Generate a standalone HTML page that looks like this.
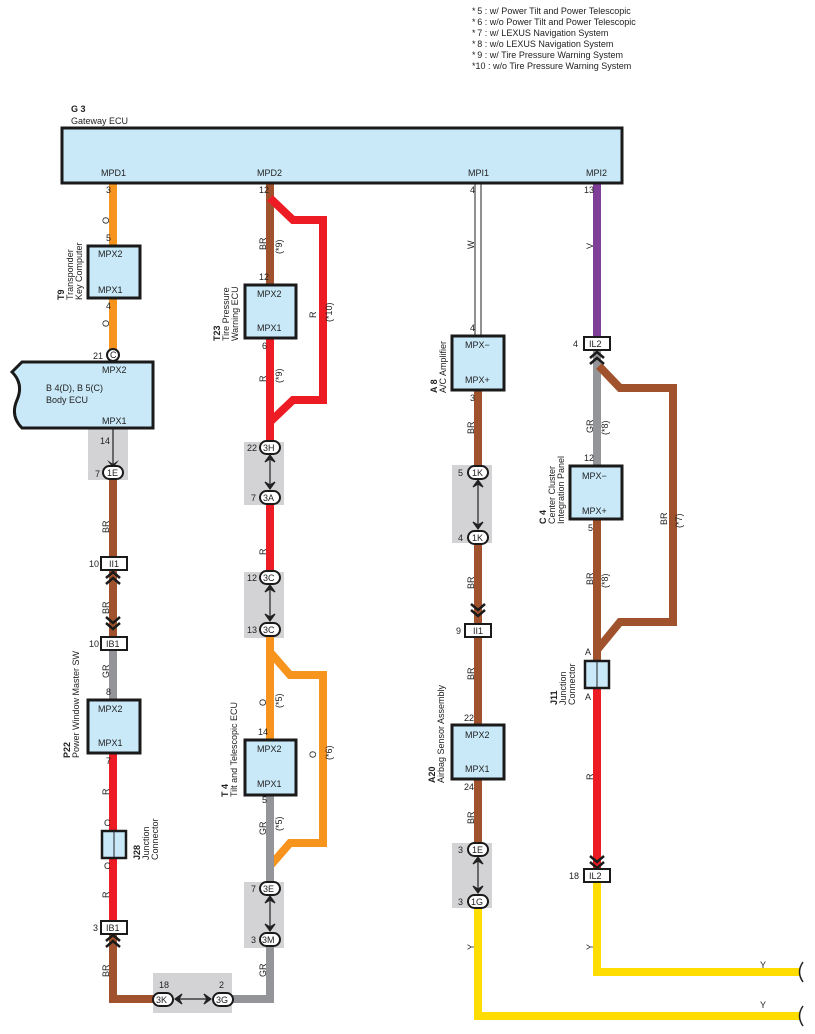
<!DOCTYPE html>
<html><head><meta charset="utf-8"><style>
body{margin:0;background:#fff}
svg{display:block;font-family:"Liberation Sans",sans-serif}
text{font-size:9px;fill:#222}
.b{font-weight:bold}
.box{fill:#c9e9f9;stroke:#1a1a1a;stroke-width:3}
.w{fill:none;stroke-width:8;stroke-linejoin:miter}
.sh{fill:#d3d3d5}
.ov{fill:#fff;stroke:#1a1a1a;stroke-width:2}
.cb{fill:#fff;stroke:#1a1a1a;stroke-width:2}
.ch{fill:none;stroke:#1a1a1a;stroke-width:2.5}
</style></head><body>
<svg width="815" height="1034" viewBox="0 0 815 1034">
<!-- legend -->
<g font-size="9">
<text x="472" y="14">*&#8201;5 : w/ Power Tilt and Power Telescopic</text>
<text x="472" y="25">*&#8201;6 : w/o Power Tilt and Power Telescopic</text>
<text x="472" y="36">*&#8201;7 : w/ LEXUS Navigation System</text>
<text x="472" y="47">*&#8201;8 : w/o LEXUS Navigation System</text>
<text x="472" y="58">*&#8201;9 : w/ Tire Pressure Warning System</text>
<text x="472" y="69">*10 : w/o Tire Pressure Warning System</text>
</g>
<!-- shaded areas -->
<rect class="sh" x="88" y="428" width="40" height="52"/>
<rect class="sh" x="244" y="442" width="40" height="63"/>
<rect class="sh" x="244" y="572" width="40" height="66"/>
<rect class="sh" x="244" y="882" width="40" height="66"/>
<rect class="sh" x="153" y="973" width="79" height="40"/>
<rect class="sh" x="452" y="465" width="40" height="78"/>
<rect class="sh" x="452" y="843" width="40" height="65"/>

<!-- wires col1 -->
<path class="w" stroke="#f7941d" d="M113 183V355"/>
<path class="w" stroke="#a0522d" d="M113 480V640"/>
<path class="w" stroke="#939598" d="M113 645V700"/>
<path class="w" stroke="#ed1c24" d="M113 753V927"/>
<path class="w" stroke="#a0522d" d="M113 935V999H157"/>
<line x1="113" y1="428" x2="113" y2="466" stroke="#222" stroke-width="1.2"/>
<path d="M107 460L113 468L119 460L113 464Z" fill="#222"/>
<!-- col2 -->
<path class="w" stroke="#a0522d" d="M270 183V285"/>
<path class="w" stroke="#ed1c24" d="M270 198L293 220H323V400H293L270 422"/>
<path class="w" stroke="#ed1c24" d="M270 338V447"/>
<path class="w" stroke="#ed1c24" d="M270 503V578"/>
<path class="w" stroke="#f7941d" d="M270 636V740"/>
<path class="w" stroke="#f7941d" d="M270 652L290 675H323V843H290L270 866"/>
<path class="w" stroke="#939598" d="M270 795V888"/>
<path class="w" stroke="#939598" d="M270 940V999H228"/>
<!-- col3 -->
<line x1="475" y1="183" x2="475" y2="336" stroke="#222" stroke-width="1"/>
<line x1="481" y1="183" x2="481" y2="336" stroke="#222" stroke-width="1"/>
<path class="w" stroke="#a0522d" d="M478 390V473"/>
<path class="w" stroke="#a0522d" d="M478 537V725"/>
<path class="w" stroke="#a0522d" d="M478 779V849"/>
<path class="w" stroke="#ffdd00" d="M478 902V1016H800"/>
<!-- col4 -->
<path class="w" stroke="#7f3f98" d="M597 183V337"/>
<path class="w" stroke="#939598" d="M597 350V466"/>
<path class="w" stroke="#a0522d" d="M597 519V661"/>
<path class="w" stroke="#a0522d" d="M599 366L620 388H673V622H620L597 650"/>
<path class="w" stroke="#ed1c24" d="M597 688V870"/>
<path class="w" stroke="#ffdd00" d="M597 880V972H800"/>
<path d="M803 962q-7 10 0 20" fill="none" stroke="#222" stroke-width="1.5"/>
<path d="M803 1006q-7 10 0 20" fill="none" stroke="#222" stroke-width="1.5"/>

<!-- gateway -->
<text x="71" y="112" class="b">G 3</text>
<text x="71" y="124">Gateway ECU</text>
<rect class="box" x="62" y="128" width="560" height="55"/>
<text x="101" y="176">MPD1</text><text x="257" y="176">MPD2</text>
<text x="468" y="176">MPI1</text><text x="586" y="176">MPI2</text>

<!-- boxes -->
<rect class="box" x="88" y="246" width="52" height="52"/>
<text x="98" y="257">MPX2</text><text x="98" y="293">MPX1</text>
<path class="box" d="M22 362H153V428H22Q10 416 17 400Q24 384 12 372Z"/>
<text x="102" y="373">MPX2</text><text x="102" y="424">MPX1</text>
<text x="46" y="391">B 4(D), B 5(C)</text><text x="46" y="403">Body ECU</text>
<rect class="box" x="88" y="700" width="52" height="53"/>
<text x="98" y="712">MPX2</text><text x="98" y="746">MPX1</text>
<rect class="box" x="245" y="285" width="51" height="53"/>
<text x="257" y="297">MPX2</text><text x="257" y="331">MPX1</text>
<rect class="box" x="245" y="740" width="51" height="55"/>
<text x="257" y="752">MPX2</text><text x="257" y="787">MPX1</text>
<rect class="box" x="452" y="336" width="52" height="54"/>
<text x="465" y="348">MPX−</text><text x="465" y="383">MPX+</text>
<rect class="box" x="452" y="725" width="52" height="54"/>
<text x="465" y="738">MPX2</text><text x="465" y="772">MPX1</text>
<rect class="box" x="570" y="466" width="52" height="53"/>
<text x="582" y="479">MPX−</text><text x="582" y="514">MPX+</text>
<rect x="102" y="831" width="24" height="27" fill="#c9e9f9" stroke="#1a1a1a" stroke-width="2.5"/><line x1="114" y1="831" x2="114" y2="858" stroke="#222"/>
<rect x="585" y="661" width="24" height="27" fill="#c9e9f9" stroke="#1a1a1a" stroke-width="2.5"/><line x1="597" y1="661" x2="597" y2="688" stroke="#222"/>

<!-- connectors -->
<g>
<circle cx="113" cy="355" r="6" class="ov"/><text x="110" y="358" font-size="8">C</text>
<rect class="ov" x="103" y="466" width="20" height="13" rx="6.5"/><text x="107" y="476">1E</text>
<rect class="ov" x="260" y="441" width="20" height="13" rx="6.5"/><text x="263" y="451">3H</text>
<rect class="ov" x="260" y="491" width="20" height="13" rx="6.5"/><text x="263" y="501">3A</text>
<rect class="ov" x="260" y="571" width="20" height="13" rx="6.5"/><text x="263" y="581">3C</text>
<rect class="ov" x="260" y="623" width="20" height="13" rx="6.5"/><text x="263" y="633">3C</text>
<rect class="ov" x="260" y="882" width="20" height="13" rx="6.5"/><text x="263" y="892">3E</text>
<rect class="ov" x="260" y="933" width="20" height="13" rx="6.5"/><text x="262" y="943">3M</text>
<rect class="ov" x="153" y="993" width="20" height="13" rx="6.5"/><text x="156" y="1003">3K</text>
<rect class="ov" x="213" y="993" width="20" height="13" rx="6.5"/><text x="216" y="1003">3G</text>
<rect class="ov" x="468" y="466" width="20" height="13" rx="6.5"/><text x="472" y="476">1K</text>
<rect class="ov" x="468" y="531" width="20" height="13" rx="6.5"/><text x="472" y="541">1K</text>
<rect class="ov" x="468" y="843" width="20" height="13" rx="6.5"/><text x="472" y="853">1E</text>
<rect class="ov" x="468" y="895" width="20" height="13" rx="6.5"/><text x="471" y="905">1G</text>
<rect class="cb" x="101" y="557" width="26" height="13"/><text x="109" y="567">II1</text>
<rect class="cb" x="101" y="637" width="26" height="13"/><text x="106" y="647">IB1</text>
<rect class="cb" x="101" y="921" width="26" height="13"/><text x="106" y="931">IB1</text>
<rect class="cb" x="465" y="624" width="26" height="13"/><text x="473" y="634">II1</text>
<rect class="cb" x="584" y="337" width="26" height="13"/><text x="589" y="347">IL2</text>
<rect class="cb" x="584" y="869" width="26" height="13"/><text x="589" y="879">IL2</text>
</g>
<!-- double arrows in shaded -->
<g stroke="#222" stroke-width="1.2" fill="#222">
<line x1="270" y1="456" x2="270" y2="489"/><path d="M265 462L270 455L275 462L270 459Z"/><path d="M265 482L270 489L275 482L270 485Z"/>
<line x1="270" y1="586" x2="270" y2="621"/><path d="M265 592L270 585L275 592L270 589Z"/><path d="M265 614L270 621L275 614L270 617Z"/>
<line x1="270" y1="897" x2="270" y2="931"/><path d="M265 903L270 896L275 903L270 900Z"/><path d="M265 924L270 931L275 924L270 927Z"/>
<line x1="478" y1="481" x2="478" y2="529"/><path d="M473 487L478 480L483 487L478 484Z"/><path d="M473 522L478 529L483 522L478 525Z"/>
<line x1="478" y1="858" x2="478" y2="893"/><path d="M473 864L478 857L483 864L478 861Z"/><path d="M473 886L478 893L483 886L478 889Z"/>
<line x1="175" y1="999" x2="211" y2="999"/><path d="M182 994L175 999L182 1004L179 999Z"/><path d="M204 994L211 999L204 1004L207 999Z"/>
</g>
<!-- chevrons -->
<g class="ch">
<path d="M106 578L113 572L120 578M106 584L113 578L120 584"/>
<path d="M106 623L113 629L120 623M106 617L113 623L120 617"/>
<path d="M106 941L113 935L120 941M106 947L113 941L120 947"/>
<path d="M471 610L478 616L485 610M471 604L478 610L485 604"/>
<path d="M590 358L597 352L604 358M590 364L597 358L604 364"/>
<path d="M590 862L597 868L604 862M590 856L597 862L604 856"/>
</g>

<!-- pin numbers -->
<g>
<text x="106" y="193">3</text><text x="106" y="241">5</text><text x="106" y="309">4</text><text x="93" y="359">21</text>
<text x="100" y="444">14</text><text x="95" y="477">7</text><text x="89" y="567">10</text><text x="89" y="647">10</text>
<text x="106" y="695">8</text><text x="106" y="764">7</text><text x="104" y="826">C</text><text x="104" y="869">C</text><text x="93" y="931">3</text>
<text x="159" y="988">18</text><text x="219" y="988">2</text>
<text x="259" y="193">12</text><text x="259" y="280">12</text><text x="262" y="349">6</text><text x="247" y="451">22</text><text x="251" y="501">7</text>
<text x="247" y="581">12</text><text x="247" y="633">13</text><text x="258" y="735">14</text><text x="262" y="803">5</text><text x="251" y="892">7</text><text x="251" y="943">3</text>
<text x="470" y="193">4</text><text x="470" y="331">4</text><text x="470" y="401">3</text><text x="458" y="476">5</text><text x="458" y="541">4</text><text x="456" y="634">9</text>
<text x="464" y="721">22</text><text x="464" y="790">24</text><text x="458" y="853">3</text><text x="458" y="905">3</text>
<text x="584" y="193">13</text><text x="573" y="347">4</text><text x="584" y="461">12</text><text x="588" y="531">5</text><text x="585" y="655">A</text><text x="585" y="700">A</text><text x="569" y="879">18</text>
<text x="760" y="968">Y</text><text x="760" y="1008">Y</text>
</g>
<!-- rotated wire labels -->
<g>
<text transform="translate(109,224) rotate(-90)">O</text>
<text transform="translate(109,327) rotate(-90)">O</text>
<text transform="translate(109,533) rotate(-90)">BR</text>
<text transform="translate(109,614) rotate(-90)">BR</text>
<text transform="translate(109,678) rotate(-90)">GR</text>
<text transform="translate(109,795) rotate(-90)">R</text>
<text transform="translate(109,898) rotate(-90)">R</text>
<text transform="translate(109,977) rotate(-90)">BR</text>
<text transform="translate(266,250) rotate(-90)">BR</text><text transform="translate(282,254) rotate(-90)">(*9)</text>
<text transform="translate(266,382) rotate(-90)">R</text><text transform="translate(282,383) rotate(-90)">(*9)</text>
<text transform="translate(316,318) rotate(-90)">R</text><text transform="translate(332,322) rotate(-90)">(*10)</text>
<text transform="translate(266,555) rotate(-90)">R</text>
<text transform="translate(266,706) rotate(-90)">O</text><text transform="translate(282,708) rotate(-90)">(*5)</text>
<text transform="translate(316,758) rotate(-90)">O</text><text transform="translate(332,760) rotate(-90)">(*6)</text>
<text transform="translate(266,835) rotate(-90)">GR</text><text transform="translate(282,831) rotate(-90)">(*5)</text>
<text transform="translate(266,977) rotate(-90)">GR</text>
<text transform="translate(474,249) rotate(-90)">W</text>
<text transform="translate(474,434) rotate(-90)">BR</text>
<text transform="translate(474,589) rotate(-90)">BR</text>
<text transform="translate(474,680) rotate(-90)">BR</text>
<text transform="translate(474,824) rotate(-90)">BR</text>
<text transform="translate(474,950) rotate(-90)">Y</text>
<text transform="translate(593,249) rotate(-90)">V</text>
<text transform="translate(593,433) rotate(-90)">GR</text><text transform="translate(608,435) rotate(-90)">(*8)</text>
<text transform="translate(593,585) rotate(-90)">BR</text><text transform="translate(608,588) rotate(-90)">(*8)</text>
<text transform="translate(667,525) rotate(-90)">BR</text><text transform="translate(682,528) rotate(-90)">(*7)</text>
<text transform="translate(593,780) rotate(-90)">R</text>
<text transform="translate(593,950) rotate(-90)">Y</text>
</g>
<!-- component names -->
<g>
<text class="b" transform="translate(64,300) rotate(-90)">T9</text>
<text transform="translate(73,300) rotate(-90)">Transponder</text>
<text transform="translate(82,300) rotate(-90)">Key Computer</text>
<text class="b" transform="translate(70,758) rotate(-90)">P22</text>
<text transform="translate(79,758) rotate(-90)">Power Window Master SW</text>
<text class="b" transform="translate(220,341) rotate(-90)">T23</text>
<text transform="translate(229,341) rotate(-90)">Tire Pressure</text>
<text transform="translate(238,341) rotate(-90)">Warning ECU</text>
<text class="b" transform="translate(228,797) rotate(-90)">T 4</text>
<text transform="translate(237,797) rotate(-90)">Tilt and Telescopic ECU</text>
<text class="b" transform="translate(437,393) rotate(-90)">A 8</text>
<text transform="translate(446,393) rotate(-90)">A/C Amplifier</text>
<text class="b" transform="translate(435,783) rotate(-90)">A20</text>
<text transform="translate(444,783) rotate(-90)">Airbag Sensor Assembly</text>
<text class="b" transform="translate(546,524) rotate(-90)">C 4</text>
<text transform="translate(555,524) rotate(-90)">Center Cluster</text>
<text transform="translate(564,524) rotate(-90)">Integration Panel</text>
<text class="b" transform="translate(140,860) rotate(-90)">J28</text>
<text transform="translate(149,860) rotate(-90)">Junction</text>
<text transform="translate(158,860) rotate(-90)">Connector</text>
<text class="b" transform="translate(557,705) rotate(-90)">J11</text>
<text transform="translate(566,705) rotate(-90)">Junction</text>
<text transform="translate(575,705) rotate(-90)">Connector</text>
</g>
</svg>
</body></html>
